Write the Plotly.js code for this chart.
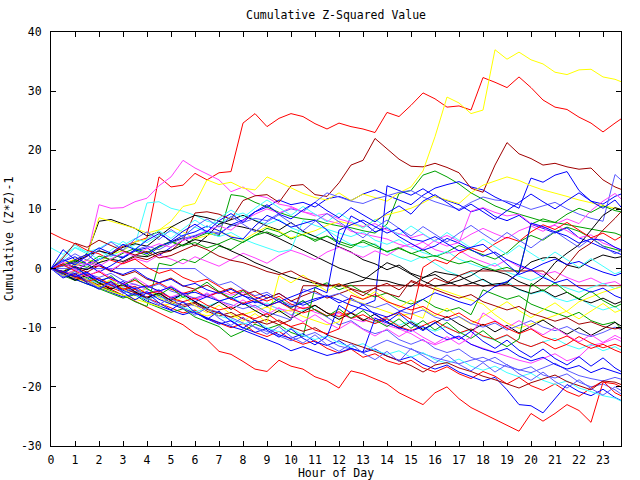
<!DOCTYPE html>
<html>
<head>
<meta charset="utf-8">
<script src="https://cdn.plot.ly/plotly-3.0.1.min.js"></script>
<style>html,body{margin:0;padding:0;background:#fff;}#chart{width:640px;height:480px;}</style>
</head>
<body>
<div id="chart"></div>
<script>
const hours = [0,0.5,1,1.5,2,2.5,3,3.5,4,4.5,5,5.5,6,6.5,7,7.5,8,8.5,9,9.5,10,10.5,11,11.5,12,12.5,13,13.5,14,14.5,15,15.5,16,16.5,17,17.5,18,18.5,19,19.5,20,20.5,21,21.5,22,22.5,23,23.5,23.75];
const xTicks = [0,1,2,3,4,5,6,7,8,9,10,11,12,13,14,15,16,17,18,19,20,21,22,23];
const yTicks = [-30,-20,-10,0,10,20,30,40];

const r1 = [0,0.8,1.5,2.2,3,2.5,3.8,4.5,5.2,15.5,13.8,14.1,16.1,15,16.2,16.4,24.6,26.2,24,25.4,26.2,25.7,24.5,23.6,24.6,24,23.6,23,26.4,25.7,27.6,29.7,28.7,27.3,27.5,26.8,32.3,31.5,30.6,32.4,30.6,28.5,27.3,26.9,25.6,24.6,23.1,24.6,25.3];
const g1 = [0,-0.5,0.8,0.2,1.5,2.4,1.8,3,2.2,3.6,4.5,3.8,5.2,6,5.5,12.5,12.2,11.2,10.4,9.5,8.8,8.4,8.2,7.6,7.2,6.9,6.4,6,7.5,12.7,13.2,15.8,16.5,15.5,14.3,12.8,11.7,10.6,9.8,9.2,8.6,8,7.8,7.4,7,6.6,6.3,6,5.6];
const b1 = [0,-1,-0.4,0.8,1.6,2.4,1.8,3,3.5,2.2,3.6,4.8,5.5,6.2,5.8,7.4,8.2,9.6,10.4,11.6,10.8,11.2,10.4,11.8,12.2,11.5,12.6,13.3,12.4,11.6,10.8,12.4,13.6,14.2,14.7,13.8,13.3,12.1,11.2,10.2,15.3,14.6,15.8,16.4,13.2,11.4,10.9,12.2,12.6];
const m1 = [0,0.5,1,2,10.8,10.2,10.3,11.3,11.9,14,15.5,18.3,17,16,15,13,13.8,12.4,12,10.9,10.5,9.6,9.2,8.1,7.6,6.3,5.9,5.5,5,4.1,3.6,4.5,3.2,2.6,3.1,1.9,1.2,0.4,1.5,0.3,-0.2,-1,-0.5,-1.5,-2.3,-1.6,-2.6,-2.2,-2.8];
const c1 = [0,1.5,3.5,2.5,3,2,3.2,4,11.1,11.3,10.2,9.7,9,8,7.6,8.8,9.4,8.2,7.5,8.3,6.9,6.2,5.4,6.5,5.2,4.1,3.6,4.2,2.8,1.9,1.2,2.1,0.8,-0.4,-1.2,-0.6,-2,-2.8,-2.2,-3.6,-4.3,-3.8,-5,-5.6,-5,-6.2,-7,-6.4,-7.2];
const d1 = [0,-0.5,-1,0,0.5,-0.5,1,2,1.5,2.5,3,4.8,9.4,9.6,9.2,8.3,11.5,12.3,12.5,11.2,14,14.2,12.5,12.2,14.5,17.5,18.3,22,20.3,18.5,17.3,17.2,17.8,17.1,16.2,13.6,12.9,17.5,21.3,19.4,18.6,17.5,17.8,17.2,16.8,17,15,13.8,13.4];
const y1 = [0,-0.5,0.5,1.5,1,2.5,3,4.5,5,6.5,8,10.5,11,15,14.2,14.6,13.6,13.3,15.5,14.6,13.6,12.7,12,11.6,12.8,11.5,12.6,12,11.4,12.8,13.8,16.5,22.3,29,28,26.2,26.8,37,35.4,36.6,35.3,34.6,33.2,32.8,33.6,33.7,32.4,32,31.6];
const k1 = [0,0.5,1,2.5,8,8.3,7.5,6.8,5.5,6.2,4.5,5.2,3.8,5.5,7.5,8.2,9,8.1,7.2,6.5,7.8,6.3,5.4,4.5,3.6,2.8,1.5,0.8,-0.2,0.6,-0.8,-1.5,-1,-2.2,-3,-2.5,-1.8,-3,-2.6,-3.5,-4.2,-3.6,-4.8,-4,-5.2,-5.8,-5,-6,-5.6];
const lb1 = [0,0,0,0,0,0,0,0,0,0,0,0,0,-1.5,-2.8,-2.2,-3.5,-4.6,-4,-5.3,-6.2,-5.5,-7,-8.2,-9.5,-8.8,-10.2,-11,-10.4,-12,-12.8,-12,-13.5,-14.2,-13.6,-15,-15.8,-15,-16.3,-17.2,-16.6,-18,-18.5,-17.8,-19.2,-20,-19.5,-20.5,-21.2];

const r2 = [0,-0.5,-1.2,-2,-3,-3.5,-4.5,-5.5,-6.5,-7.5,-8.5,-9.5,-11,-12,-14,-14.5,-15.7,-17,-17.4,-15.5,-16.5,-17,-18.3,-19,-20.2,-17.3,-17.8,-18.6,-19.5,-21,-22,-23,-21,-20,-22,-23.5,-24.5,-25.5,-26.5,-27.5,-24.5,-25.8,-24.5,-23,-24,-26,-19.2,-19.5,-20];
const g2 = [0,-1.2,-2,-1.5,-3,-3.8,-4.5,-5.6,-6.4,0.9,0.5,1.6,1,2.4,3.8,3.2,4.5,5.6,6.8,6.2,5,5.8,4.6,5.5,4.2,3.5,4.8,4,2.8,3.6,2.5,3.2,2,2.8,3.9,3.1,2.4,1.6,2.7,4.5,5.6,4.8,6.2,7,6.3,5.2,3.8,3.2,3];
const b2 = [0,-0.6,-1.4,-0.8,-2,-2.8,-2.2,-3.5,-4.2,-3.6,-5,-4.4,-5.6,-4.8,-3.9,-5.2,-4.5,-5.8,-5,-4.2,-5.5,-6.2,-5.4,-4.6,-5.8,-5,-6.2,-5.4,14,13.2,12.4,13.5,12.2,11.5,10.8,9.6,10.2,8.8,8.1,9,7.5,6.8,6,6.9,5.2,4.4,3.5,2.8,2.4];
const m2 = [0,-0.5,-1.2,-0.6,-1.8,-2.5,-3.1,-2.6,-3.6,-4.2,-4.8,-4.1,-5.2,-4.6,-3.8,-4.5,-4,-5.2,-6.1,-6.8,-7.2,-6.5,-7.4,-8,-7.6,-8.4,-9,-8.3,-9.6,-10.2,-11,-12.2,-12.9,-12.1,-11.6,-12.8,-13.5,-14.2,-14.8,-15.5,-16,-15.2,-14.4,-15.6,-14.9,-13,-12.6,-11.8,-12.3];
const c2 = [0,-1.2,-0.5,-1.8,-2.6,-2,-3.2,-4,-3.4,-4.6,-5.3,-4.7,-5.8,-6.4,-5.6,-4.8,-5.9,-6.6,-5.8,-7,-7.8,-7.1,-6.3,-7.5,-8.2,-7.4,-8.6,-9.2,-8.4,-9.6,-8.8,-9.9,-10.6,-9.8,-11,-10.3,-11.5,-12.1,-11.3,-12.5,-13.2,-12.4,-11.8,-12.9,-13.6,-12.8,-13.9,-13.2,-13.8];
const d2 = [0,-1,-1.8,-1.2,-2.5,-3.4,-2.8,-4,-5.2,-4.5,-5.8,-6.5,-5.9,-7.2,-8,-7.4,-8.5,-9.2,-8.6,-9.5,-8.7,-2.9,-2.9,-2.9,-2.9,-2.9,-2.9,-2.9,-2.9,-2.9,-2.9,-2.9,-2.9,-2.9,-2.9,-2.9,-2.9,-2.9,-2.9,-2.9,-2.9,-2.9,-2.9,-2.9,-2.9,-2.9,-2.9,-2.9,-2.9];
const y2 = [0,0.8,1.6,2.2,8.6,8,7.4,6.8,6,6.6,7.1,6.2,5,5.6,6.2,5.5,4.8,6,7.1,6.3,5.2,5.8,6.4,7.3,8,7.5,7,8.2,9.1,9.6,10.2,11.1,12.2,11.6,11,12.8,14.1,14.8,15.5,14.9,14,13.3,12.8,12.2,11.6,11.1,10.6,10.2,10];
const k2 = [0,0.5,1.2,2.1,3,2.4,3.6,4.2,3.8,5.4,7,8.1,9,8.6,8,7.4,7,6.5,6,5.1,4.1,3,2.1,1,0.1,-0.6,-1.5,-1.9,-2.1,-2.7,-3,-1.6,-0.5,-0.9,-1.2,-2.3,-3,-2.6,-2.4,-0.6,1.1,1.8,1.9,0.6,0.1,1.4,2.3,1.8,2];
const lb2 = [0,0.4,1.1,0.6,1.5,2.3,2,3.1,3.8,3.2,4.3,5.1,5.6,6.4,6,7.2,7.8,8.5,8.1,9.3,10.1,9.6,11.2,12.8,12.1,11.4,11,11.8,12.3,12.9,13.2,12.1,11.3,10.6,10,11.2,12.1,11.6,11.4,10.8,10,10.6,11.2,10.1,9.2,8.5,8,15.9,15];

const r3 = [0,-0.8,-1.6,-1,-2.4,-3.2,-4,-3.5,-5,-5.8,-6.6,-7.5,-7,-8.4,-9.2,-10,-9.3,-10.8,-11.5,-10.6,-12,-12.8,-12.2,-13.5,-14.3,-13.6,-15,-14.4,-15.6,-16.2,-15.5,-16.8,-17.5,-16.6,-17.8,-18.6,-17.4,-18.2,-19.5,-18.4,-19.8,-20.6,-19.5,-20.8,-21.6,-20.2,-19,-21,-21.5];
const g3 = [0,-0.8,-1.8,-2.6,-3.4,-4.2,-5,-4.4,-5.8,-6.6,-7.4,-6.8,-8.2,-9,-9.8,-11.5,-10.6,-9.4,-10.2,-9.5,-10.8,-11.5,-3.2,-2.4,-3.6,-2.8,-4,-4.8,-4.1,-5.3,-6,-5.2,-6.5,-7.2,-6.6,-7.8,-3.6,-4.4,-5.2,-4.6,-6,-6.8,-7.5,-8.2,-7.4,-8.8,-9.5,-9,-10.2];
const b3 = [0,-1,-1.8,-2.6,-3.2,-4,-4.8,-4.2,-5.5,-6.3,-7,-7.8,-7.2,-8.5,-9.4,-8.8,-10,-10.8,-10.1,-11.2,-11.8,-11,-12.4,-13,-12.2,-13.5,-14.2,-13.6,-14.8,-15.5,-14.9,-16.2,-17,-16.3,-17.5,-18.2,-19,-18.4,-20.5,-23,-23.2,-24.4,-22,-19.6,-20.8,-21.5,-20.4,-21.8,-22.3];
const m3 = [0,0.8,0.3,1.4,0.6,-0.2,0.9,1.7,1.1,2.3,1.6,0.8,2,1.2,0.4,1.5,2.6,1.8,0.9,2.2,3.1,2.4,1.5,2.8,3.6,2.7,1.9,3,2.2,3.5,4.2,3.3,4.8,5.6,4.6,5.8,6.8,5.9,5.1,6.4,7.2,6.3,7.5,8.4,7.6,9.8,11.4,12.7,11.8];
const c3 = [0,2.1,3.6,2.8,3.4,4.6,3.9,5.1,4.4,5.6,6.3,5.5,7,6.2,5.4,6.1,5,4.2,3.5,2.8,3.2,8.1,7.3,6.6,6,5.4,6.2,4.8,4.1,4.9,3.5,2.7,2.1,2.9,1.6,0.8,0.1,0.9,-0.6,-1.3,-2,-1.2,-2.6,-3.3,-4,-3.2,-2.5,-3.4,-3];
const d3 = [0,0.8,0.2,-0.6,0.5,-0.3,-1.2,-0.5,-1.8,-2.4,-1.6,-2.9,-3.5,-2.8,-4,-3.3,-4.5,-3.8,-5,-4.2,-5.5,-4.6,-3.8,-5,-4.2,-3.5,-4.6,-3.2,-2.5,-3.6,-2.2,-3,-1.6,-2.4,-1.2,-0.4,-0.4,-0.4,-0.4,-0.4,-0.4,-0.4,-2,0.5,3,4.3,6.5,8.5,9.6];
const y3 = [0,-0.8,-1.5,-2.4,-3.1,-3.9,-4.5,-5.2,-5.8,-6.4,-5.9,-6.8,-7.4,-8,-7.5,-8.3,-7.8,-7.1,-6.5,-7.4,-7,-8.1,-8.8,-9.5,-9,-5.2,-5.9,-6.6,-7.3,-8,-7.6,-8.4,-3.2,-3.9,-4.6,-5.3,-6,-7.8,-9.2,-10.1,-9.4,-8.7,-8,-7.2,-5.6,-4.8,-4,-3.4,-3.1];
const k3 = [0,-0.5,0.3,-0.2,1,1.6,1.2,2.2,2,2.8,3.1,4,4.9,4.5,4,3,2.1,1,0.2,-0.6,-1.5,-2,-2.5,-2.8,-3,-2.4,-2,-0.5,1,0.2,-1,-2.1,-3,-2.6,-2,-1.2,0,-0.4,-1,-2.2,-3,-1.5,1,2.6,4,6.5,9,10.3,10];
const lb3 = [0,-0.6,-1.1,-1.7,-2.3,-2.9,-3.4,-3.9,-4.2,-4.8,-5.2,-5.8,-6.3,-6.8,-7.4,-8.3,-9.2,-9.9,-10.6,-11.4,-12.2,-11.5,-10.8,-12,-13.1,-13.6,-14.1,-13,-12.1,-12.9,-13.6,-14.3,-15.1,-15.6,-16.1,-15.5,-15,-15.9,-16.6,-17.1,-17.6,-16.8,-16,-17.2,-18.1,-18.6,-19,-18.4,-18.7];

const r4 = [6,5,4.2,3.1,2.5,1.4,0.8,1.6,0.2,-0.8,-0.2,-1.5,-2.3,-1.8,-3,-4.2,-3.6,-4.8,-5.5,-4.7,-6,-6.8,-6.2,-7.5,-8.1,-7.4,-8.6,-9.3,-8.5,-9.8,-10.5,-9.7,-8.8,-10,-10.9,-10.2,-11.4,-12,-11.2,-12.5,-13.2,-12.4,-13.6,-12.8,-11.5,-12.6,-13.4,-12.8,-13.2];
const g4 = [0,0.6,1.4,0.8,2.1,1.5,2.6,3.4,2.7,3.8,4.6,3.9,4.4,3.5,4.2,5.1,4.4,5.6,6.2,5.4,6.4,5.7,4.9,5.5,4.6,3.9,4.5,3.6,2.9,3.4,2.6,1.8,2.2,1.4,0.8,1.3,0.4,-0.3,0.2,-0.6,7.5,8.4,7.8,9.2,10.2,9.5,10.6,9.8,9.6];
const b4 = [0,1.2,2,0.8,-0.6,0.5,1.8,3.2,2.5,3.8,4.5,5.6,6.2,7.2,6.4,5.3,5,7.2,9,8.1,7,7.6,8.2,6.5,4.1,8.9,7.8,6.2,6.9,5.4,4.2,3.1,3.8,5.1,4.3,3.2,2.1,2.8,1.5,0.6,-0.2,0.8,1.6,0.7,1.2,0.2,-0.6,-1.2,-0.8];
const m4 = [0,-1,-0.3,0.9,0.4,1.6,2.8,2.1,3.4,4.2,3.6,4.8,5.3,6.4,7.2,6.5,8.1,9.2,10.1,9.4,10.3,9.6,8.9,9.3,8.4,7.8,7.1,7.6,6.5,5.9,5.2,5.8,4.6,3.8,4.4,9.7,10.3,9.5,8.9,9.2,7.6,6.9,7.3,6.4,5.2,5.7,4.3,3.6,3.1];
const c4 = [0,-0.7,-1.5,-2.2,-1.6,-3,-3.8,-4.5,-5.2,-4.6,-5.9,-6.5,-7.3,-6.8,-8,-8.6,-9.4,-8.8,-10,-10.7,-10.1,-11.3,-12,-11.4,-12.6,-13.3,-12.7,-13.8,-14.5,-13.9,-15,-14.2,-15.4,-16,-15.3,-16.5,-17.2,-16.5,-17.6,-18.3,-17.7,-18.9,-19.6,-19,-20.2,-20.8,-21.5,-21.9,-22.4];
const d4 = [0,-0.6,-1.3,-2,-2.8,-2.2,-3.4,-4.1,-4.8,-4.2,-5.5,-6.2,-5.7,-6.9,-7.5,-8.2,-7.6,-8.8,-9.4,-8.7,-9.9,-10.6,-10,-11.2,-11.9,-12.6,-13.2,-14,-14.8,-15.6,-16.4,-17.5,-16.3,-15.9,-16.8,-17.4,-18.2,-18.8,-19.5,-20.2,-19.3,-18.6,-18,-19.1,-19.8,-20.5,-19,-19.2,-19.6];
const lb4 = [0,0.6,-0.2,-0.9,-1.5,-0.8,-2,-2.7,-3.3,-2.6,-3.8,-4.4,-5,-4.3,-5.5,-6.1,-6.8,-6.2,-7.4,-8,-8.7,-3.5,-4.1,-4.8,-4.2,-5.3,-6,-6.6,-5.9,-7.1,-7.7,-7,-8.2,-8.8,-8.1,-9.3,-9.9,-9.2,-10.4,-9.6,-8.8,-9.9,-10.5,-9.8,-10.9,-11.5,-10.8,-9.9,-10.3];

const r5 = [0,0.6,-0.4,-1.2,-0.5,-1.8,-2.6,-2,-3.1,-2.4,-3.5,-4.2,-3.6,-4.8,-4,-5.2,-5.9,-5.2,-6.4,-5.6,-6.8,-7.5,-6.9,-8,-7.3,-8.4,-7.8,-8.9,-8.2,-7.4,-8.6,0.2,1.5,0.8,2.6,3.5,2.8,4.2,5.3,4.6,6.2,7.4,6.6,7.8,6.5,5.2,6,4.8,5.4];
const b5 = [0,-0.8,0.4,-1.2,-2,-2.8,-3.6,-4.5,-3.9,-5.2,-6,-6.8,-7.6,-8.3,-9.1,-9.8,-10.4,-11.2,-12,-12.8,-13.9,-13.2,-14,-14.7,-14.2,-13.5,-14.1,-8.4,-9.2,-10,-10.6,-9.8,-11.2,-12,-11.4,-12.8,-13.6,-14.2,-13.5,-14.8,-15.6,-15,-16.2,-17,-16.4,-17.6,-16.8,-17.5,-17.8];
const d5 = [0,1.8,4.3,3.6,4.8,3.9,3,2.3,2.9,1.8,2.2,3.1,4,3.2,2.1,1.4,1,0.3,-0.5,-1,-0.4,-1.5,-2.2,-3,-2.6,-3.4,-4,-3.3,-4.2,-4.8,-2,-2.8,-3.6,-4.3,-5,-4.4,-5.6,-6.3,-7,-6.4,-7.6,-8.2,-8.9,-8.3,-9.4,-9,-9.8,-10.2,-10];
const r6 = [0,-0.6,-1.5,-2.2,-1.6,-2.8,-3.5,-3,-4.3,-3.8,-5,-5.6,-5,-6.2,-7,-6.5,-7.8,-8.5,-7.6,-9,-9.8,-9.2,-10.4,-11,-10.2,-4.5,-5.2,-4.4,-5.6,-6.3,-7,-6.4,-7.6,-8.3,-7.5,-8.8,-9.6,-8.9,-10.1,-11,-10.2,-11.5,-12.2,-11.4,-12.6,-13.5,-12.8,-13.8,-14.2];
const b6 = [0,3.2,1.5,2.4,0.8,-0.4,-1,-0.2,-1.6,-2.4,-1.8,-3,-2.5,-3.6,-4.2,-3.5,-4.6,-5.2,-4.4,-5.6,-4.8,-4,-3.2,-4.1,6.5,7.4,8.2,7.1,6,6.8,5,4.6,5.4,4.2,3,3.6,4.1,2.5,0.8,-1,-0.2,-1.5,-2.4,-1.8,-3.2,-4,-3.3,-4.6,-5];
const b7 = [0,-0.5,-1.4,-0.6,-2,-1.5,-2.6,-3.4,-2.9,-3.8,-3.1,-4.3,-4,-4.8,-5.5,-4.9,-6.1,-5.5,-6.3,-5.6,-6.5,-5.8,-5.1,-4.6,-5.3,-6.2,-6.9,-7.6,-8.2,-7.3,-6.4,-5.2,-4.1,-4.8,-5.6,-6.2,-4.5,-3,-2.2,-0.8,7.7,7.1,6.2,5.5,4.3,5,4.8,3.6,3.2];

const b8 = [0,1.5,0.6,2.2,3.5,2.6,4.1,3.2,4.8,5.9,4.7,6.3,7.5,6.2,8.1,9.3,7.8,9.6,10.8,9.2,8.4,9.9,11.2,9.8,8.6,10.3,9.1,7.9,9.4,10.6,9.2,11.4,12.5,11.1,9.8,10.9,9.6,8.3,9.8,11.2,12.6,11.3,10.1,11.5,12.8,11.4,10.2,11.6,10.4];
const b9 = [0,-1.6,-0.8,-2.4,-3.5,-2.2,-4,-5.3,-4.1,-5.8,-7,-5.6,-7.4,-8.6,-7.2,-8.9,-10.1,-8.7,-10.4,-11.6,-10.2,-11.8,-12.9,-11.5,-6.2,-7.5,-6.1,-7.8,-9,-7.6,-9.3,-10.5,-9.1,-10.8,-12,-10.6,-12.3,-13.5,-12.1,-13.8,-15,-13.6,-15.2,-16.3,-14.9,-16.5,-15.1,-16.8,-17.4];
const lb5 = [0,1.2,2.5,1.4,3.2,4.5,3.1,5,6.2,4.9,6.6,5.3,7.1,8.4,7,8.8,7.5,6.2,7.9,9.1,7.7,6.4,8,9.3,7.9,6.5,5.2,6.9,8.2,6.8,5.5,7.1,5.8,4.5,6,7.3,5.9,4.6,6.1,4.8,3.5,5,6.3,4.9,3.6,5.1,3.8,2.5,3];
const lb6 = [0,-1.4,-0.5,-2.1,-3.3,-2.4,-4.2,-3.1,-5,-6.1,-4.9,-6.7,-7.9,-6.6,-8.4,-9.6,-8.2,-10,-11.1,-9.8,-11.5,-12.6,-11.2,-12.9,-14,-12.7,-14.3,-15.4,-14,-15.7,-13.5,-14.8,-16,-14.6,-16.2,-17.3,-15.9,-17.5,-16.2,-17.8,-18.9,-17.5,-19.1,-20.2,-18.8,-20.3,-21.4,-20,-20.6];
const g5 = [0,-0.9,0.4,-1.3,-2.4,-1.2,-2.9,-1.7,-3.4,-4.5,-3.2,-4.9,-3.6,-2.3,-3.9,-5,-3.7,-5.3,-6.4,-5.1,-6.7,-5.4,-7,-8.1,-6.8,-8.4,-7.1,-8.7,-9.8,-8.5,-10.1,-8.8,-10.4,-9.1,-10.7,-11.8,-10.5,-12.1,-13.2,-11.9,-2.5,-3.8,-2.4,-4,-5.1,-3.8,-5.4,-6.5,-6];
const c5 = [3.5,2.4,4,2.8,1.5,3.1,4.6,3.3,5,6.4,5.1,6.7,8.2,6.9,8.5,9.9,8.6,10.2,11.6,10.3,9,10.5,9.2,7.9,9.4,8.1,6.8,8.3,7,5.7,7.2,5.9,4.6,6.1,4.8,3.5,5,3.7,2.4,3.9,2.6,1.3,2.8,1.5,0.2,1.7,0.4,-0.9,-0.5];
const m5 = [0,1.1,-0.2,-1.4,-0.3,-1.6,-2.7,-1.5,-2.8,-4,-2.9,-4.2,-5.3,-4.1,-5.4,-6.5,-5.3,-6.6,-7.8,-6.6,-7.9,-9,-7.8,-9.1,-10.2,-9,-10.3,-11.4,-10.2,-11.5,-10.3,-11.6,-12.7,-11.5,-12.8,-11.6,-7.5,-8.8,-10,-8.8,-10.1,-11.2,-10,-11.3,-12.4,-11.2,-12.5,-11.3,-11.8];
const y4 = [0,-1.3,-0.4,-1.9,-3,-1.8,-3.4,-4.6,-3.3,-4.9,-6,-4.8,-6.3,-7.5,-6.2,-7.7,-8.9,-7.6,-9.1,-1.2,-2.4,-1.1,-2.6,-3.8,-2.5,-4,-5.2,-3.9,-5.4,-6.6,-5.3,-6.8,-8,-6.7,-8.2,-9.4,-8.1,-6.9,-5.6,-7.1,-8.3,-7,-5.8,-7.3,-8.5,-7.2,-5.9,-7.4,-7];
const k4 = [0,-0.8,-2,-1.1,-2.4,-3.5,-2.6,-3.9,-5,-4.1,-5.4,-4.3,-5.6,-6.7,-5.6,-6.9,-5.8,-7.1,-8.2,-7.1,-8.4,-7.3,-6.2,-7.5,-8.6,-7.5,-8.8,-7.7,-9,-10.1,-9,-10.3,-9.2,-8.1,-9.4,-10.5,-9.4,-10.7,-9.6,-10.9,-9.8,-8.7,-10,-11.1,-10,-11.3,-10.2,-9.1,-9.7];

const RED = '#ff0000', GREEN = '#00a000', BLUE = '#0000ff', MAGENTA = '#ff40ff', CYAN = '#40ffff',
      DARKRED = '#a00000', YELLOW = '#ffff00', BLACK = '#000000', LIGHTBLUE = '#5a5aff';

const seriesValues = [r1,g1,b1,m1,c1,d1,y1,k1,lb1,
                      r2,g2,b2,m2,c2,d2,y2,k2,lb2,
                      r3,g3,b3,m3,c3,d3,y3,k3,lb3,
                      r4,g4,b4,m4,c4,d4,y4,k4,lb4,
                      r5,g5,b5,m5,c5,d5,lb5,
                      r6,b6,b7,b8,b9,lb6];
const seriesColors = [RED,GREEN,BLUE,MAGENTA,CYAN,DARKRED,YELLOW,BLACK,LIGHTBLUE,
                      RED,GREEN,BLUE,MAGENTA,CYAN,DARKRED,YELLOW,BLACK,LIGHTBLUE,
                      RED,GREEN,BLUE,MAGENTA,CYAN,DARKRED,YELLOW,BLACK,LIGHTBLUE,
                      RED,GREEN,BLUE,MAGENTA,CYAN,DARKRED,YELLOW,BLACK,LIGHTBLUE,
                      RED,GREEN,BLUE,MAGENTA,CYAN,DARKRED,LIGHTBLUE,
                      RED,BLUE,BLUE,BLUE,BLUE,LIGHTBLUE];

const traces = seriesValues.map((vals, i) => ({
  x: hours, y: vals, type: 'scatter', mode: 'lines',
  line: {color: seriesColors[i], width: 1},
  hoverinfo: 'skip', showlegend: false
}));

const monoFont = {family: 'DejaVu Sans Mono, Liberation Mono, monospace', size: 11.5, color: '#000'};

const layout = {
  width: 640, height: 480,
  paper_bgcolor: '#fff', plot_bgcolor: '#fff',
  margin: {l: 51, r: 19, t: 32, b: 34, pad: 0},
  showlegend: false,
  font: monoFont,
  title: {text: 'Cumulative Z-Squared Value', font: monoFont, x: 0.525, xanchor: 'center', y: 0.968, yanchor: 'middle'},
  xaxis: {
    range: [0, 23.75], tickvals: xTicks, ticktext: xTicks.map(String),
    ticks: 'inside', ticklen: 5, tickcolor: '#000', tickwidth: 1,
    showline: true, linecolor: '#000', linewidth: 1, mirror: 'allticks',
    showgrid: false, zeroline: false, tickfont: monoFont, ticklabelstandoff: 3,
    title: {text: 'Hour of Day', font: monoFont, standoff: 6}
  },
  yaxis: {
    range: [-30, 40], tickvals: yTicks, ticktext: yTicks.map(String),
    ticks: 'inside', ticklen: 5, tickcolor: '#000', tickwidth: 1,
    showline: true, linecolor: '#000', linewidth: 1, mirror: 'allticks',
    showgrid: false, zeroline: false, tickfont: monoFont, ticklabelstandoff: 6,
    title: {text: 'Cumulative (Z*Z)-1', font: monoFont, standoff: 4}
  }
};

Plotly.newPlot('chart', traces, layout, {staticPlot: true, displayModeBar: false});
</script>
</body>
</html>
